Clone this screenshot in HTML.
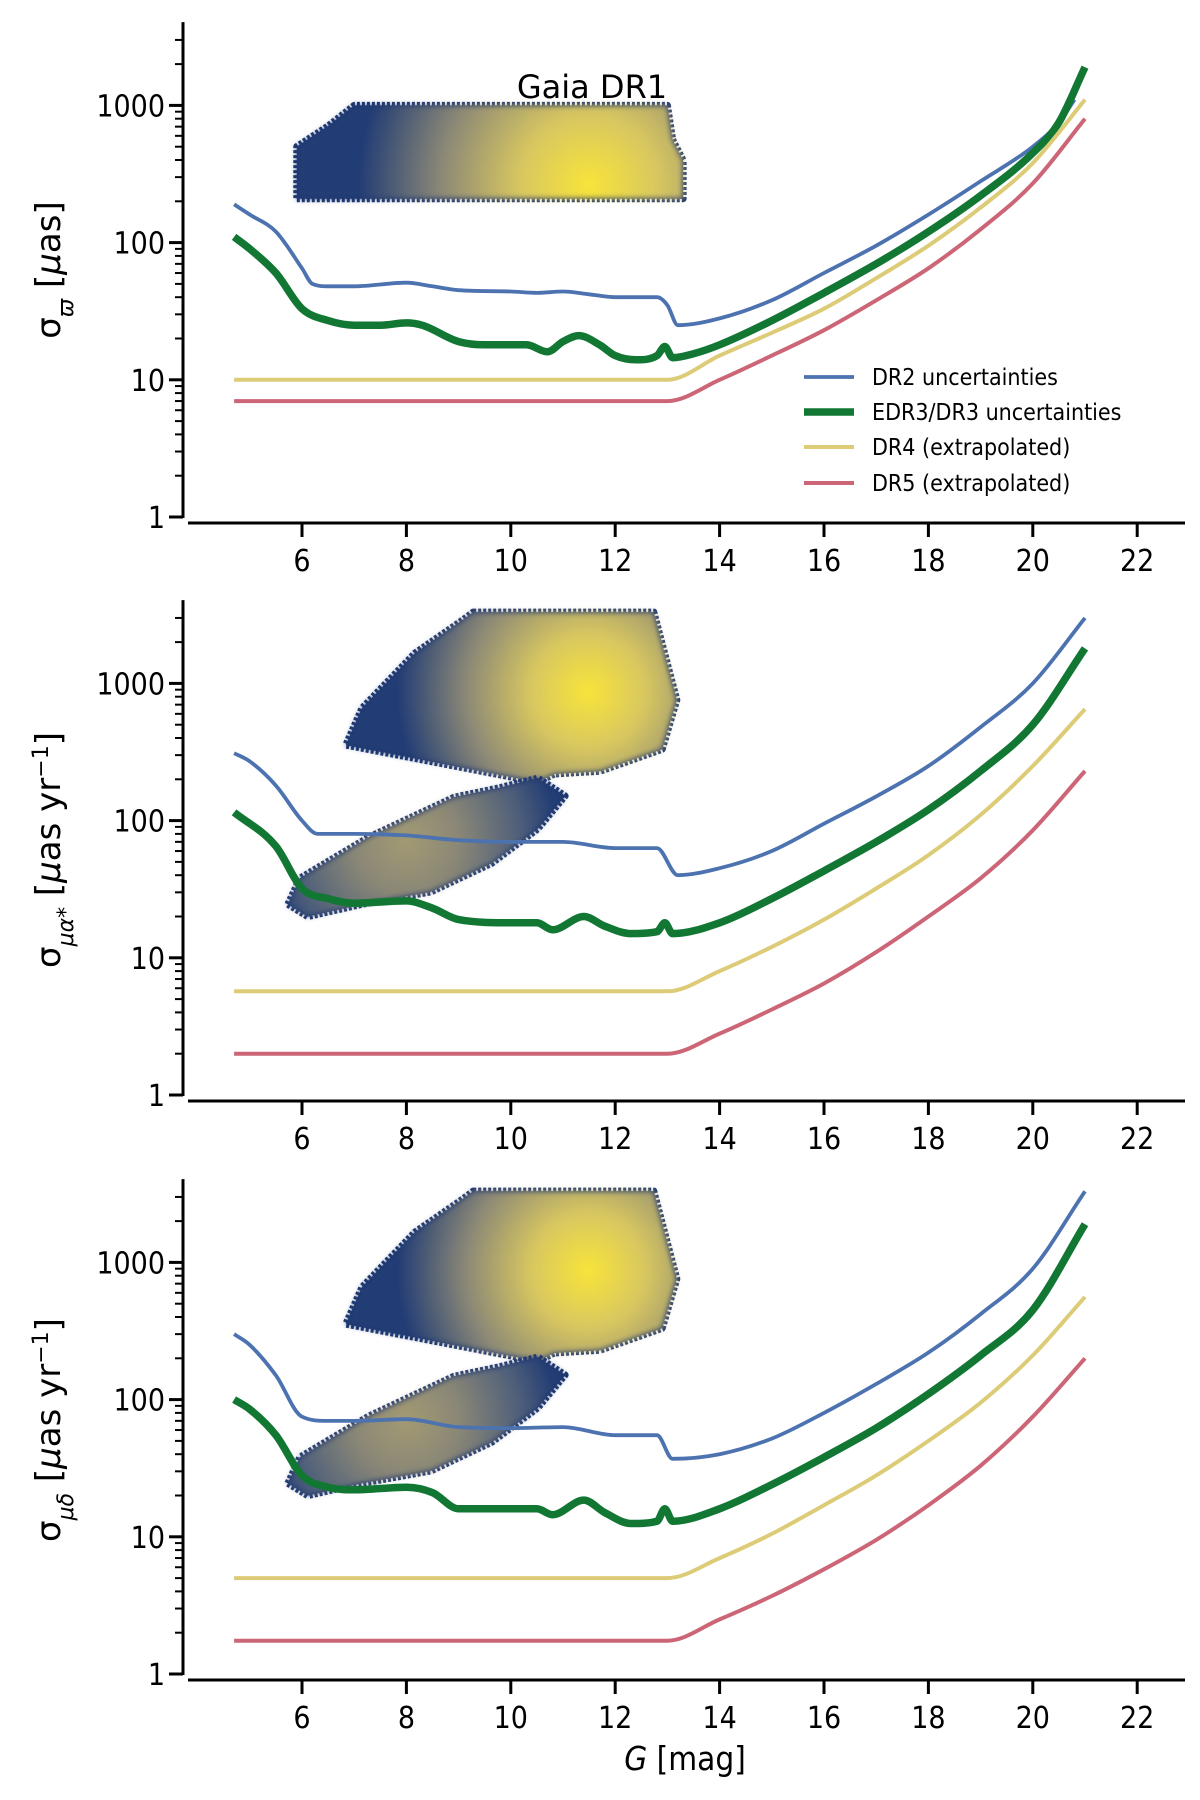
<!DOCTYPE html>
<html><head><meta charset="utf-8">
<style>
html,body{margin:0;padding:0;background:#fff;}
svg{display:block;}
text{font-family:"DejaVu Sans Condensed","DejaVu Sans","Liberation Sans",sans-serif;fill:#000;}
.lab{font-family:"DejaVu Sans","Liberation Sans",sans-serif;}
</style></head>
<body>
<svg id="fig" width="1200" height="1800" viewBox="0 0 1200 1800">
<defs>
<filter id="blur" x="-20%" y="-20%" width="140%" height="140%"><feGaussianBlur stdDeviation="3"/></filter>
</defs>
</svg>
<script>
// ---------- data ----------
const xTicks = [6,8,10,12,14,16,18,20,22];
const yTicks = [1,10,100,1000];
const yTickLabels = ['1','10','100','1000'];
const panelLabels = ['σ<tspan baseline-shift="sub" font-size="22" font-style="italic">ϖ</tspan> [<tspan font-style="italic">μ</tspan>as]',
  'σ<tspan baseline-shift="sub" font-size="22" font-style="italic">μα*</tspan> [<tspan font-style="italic">μ</tspan>as yr<tspan baseline-shift="super" font-size="22">−1</tspan>]',
  'σ<tspan baseline-shift="sub" font-size="22" font-style="italic">μδ</tspan> [<tspan font-style="italic">μ</tspan>as yr<tspan baseline-shift="super" font-size="22">−1</tspan>]'];
const seriesNames = ['DR2 uncertainties','EDR3/DR3 uncertainties','DR4 (extrapolated)','DR5 (extrapolated)'];

// panel 1: parallax
const p1DR2G = [4.7,5,5.5,6,6.2,6.5,7,8,8.5,9,10,10.5,11,11.5,12,12.8,13,13.2,14,15,16,17,18,19,20,20.5,20.8];
const p1DR2V = [190,160,120,65,50,48,48,51,48,45,44,43,44,42,40,40,35,25,28,38,60,95,160,280,500,750,1100];
const p1DR3G = [4.7,5,5.5,6,6.5,7,7.5,8,8.3,9,9.5,10,10.3,10.7,11,11.3,11.7,12,12.4,12.8,12.95,13.1,13.5,14,15,16,17,18,19,20,20.5,21];
const p1DR3V = [110,90,60,33,27,25,25,26,25,19,18,18,18,16,19,21,18,15,14,15,17.5,14.5,15.5,18,27,43,70,120,220,450,750,1900];
const p1DR4G = [4.7,13,14,15,16,17,18,19,20,21];
const p1DR4V = [10,10,15,22,33,55,95,180,380,1100];
const p1DR5G = [4.7,13,14,15,16,17,18,19,20,21];
const p1DR5V = [7,7,10,15,23,38,65,125,270,800];

// panel 2: pm ra
const p2DR2G = [4.7,5,5.5,6,6.3,7,8,9,10,11,12,12.8,13.2,14,15,16,17,18,19,20,21];
const p2DR2V = [310,270,180,100,80,80,78,72,70,70,63,63,40,45,60,95,150,250,480,1000,3000];
const p2DR3G = [4.7,5.5,6,6.5,7,8,8.5,9,10,10.5,10.8,11.4,11.8,12.3,12.8,12.95,13.1,14,15,16,17,18,19,20,21];
const p2DR3V = [115,65,32,27,25,26,23,19,18,18,16,20,17,15,15.5,18,15,18,27,43,70,120,230,500,1800];
const p2DR4G = [4.7,13,14,15,16,17,18,19,20,21];
const p2DR4V = [5.7,5.7,8,12,19,32,56,110,250,650];
const p2DR5G = [4.7,13,14,15,16,17,18,19,20,21];
const p2DR5V = [2,2,2.8,4.2,6.5,11,20,38,85,230];

// panel 3: pm dec
const p3DR2G = [4.7,5,5.5,6,6.5,7,8,9,10,11,12,12.8,13.1,14,15,16,17,18,19,20,21];
const p3DR2V = [300,250,150,75,70,70,72,63,62,63,55,55,37,40,52,80,130,220,420,900,3300];
const p3DR3G = [4.7,5,5.5,6,6.5,7,8,8.5,9,10,10.5,10.8,11.4,11.8,12.3,12.8,12.95,13.1,14,15,16,17,18,19,20,21];
const p3DR3V = [100,85,55,28,23,22,23,21,16,16,16,14.5,18.5,15,12.5,13,16,13,16,24,38,62,110,210,450,1900];
const p3DR4G = [4.7,13,14,15,16,17,18,19,20,21];
const p3DR4V = [5,5,7,10.5,17,28,50,95,210,560];
const p3DR5G = [4.7,13,14,15,16,17,18,19,20,21];
const p3DR5V = [1.75,1.75,2.5,3.7,5.8,9.5,17,33,75,200];

// DR1 density outlines (G, log10 sigma)
const dr1TopG = [5.9,13.3,13.3,13.1,13.0,7.0,6.5,5.9];
const dr1TopL = [2.32,2.32,2.6,2.75,3.0,3.0,2.85,2.7];
const dr1BigG = [9.28,12.74,13.18,12.9,11.71,10.83,10.52,6.84,7.15,8.16,9.07];
const dr1BigL = [3.52,3.52,2.88,2.52,2.36,2.34,2.28,2.55,2.82,3.22,3.46];
const dr1SmallG = [5.73,5.96,7.28,8.91,9.79,10.52,11.04,10.52,9.64,8.47,7.15,6.11];
const dr1SmallL = [1.39,1.58,1.88,2.17,2.24,2.31,2.18,1.94,1.69,1.48,1.39,1.30];

// ---------- layout ----------
const NS='http://www.w3.org/2000/svg';
const svg=document.getElementById('fig');
const panelBase=[517,1095,1674];
const decade=137.2;
const X0=302, XS=52.2;
function xPix(g){return X0+(g-6)*XS;}
function yPix(p,v){return panelBase[p]-Math.log10(v)*decade;}
function yPixL(p,l){return panelBase[p]-l*decade;}
function mk(tag,attrs,parent){const e=document.createElementNS(NS,tag);for(const k in attrs)e.setAttribute(k,attrs[k]);(parent||svg).appendChild(e);return e;}

function monoPath(xs,ys){
  const n=xs.length;const d=[],m=new Array(n);
  for(let i=0;i<n-1;i++)d.push((ys[i+1]-ys[i])/(xs[i+1]-xs[i]));
  m[0]=d[0];m[n-1]=d[n-2];
  for(let i=1;i<n-1;i++){m[i]=(d[i-1]*d[i]<=0)?0:(d[i-1]+d[i])/2;}
  for(let i=0;i<n-1;i++){
    if(d[i]===0){m[i]=0;m[i+1]=0;continue;}
    const a=m[i]/d[i],b=m[i+1]/d[i],s=a*a+b*b;
    if(s>9){const t=3/Math.sqrt(s);m[i]=t*a*d[i];m[i+1]=t*b*d[i];}
  }
  let p='M'+xs[0].toFixed(1)+','+ys[0].toFixed(1);
  for(let i=0;i<n-1;i++){
    const h=(xs[i+1]-xs[i])/3;
    p+=' C'+(xs[i]+h).toFixed(1)+','+(ys[i]+m[i]*h).toFixed(1)+' '+(xs[i+1]-h).toFixed(1)+','+(ys[i+1]-m[i+1]*h).toFixed(1)+' '+xs[i+1].toFixed(1)+','+ys[i+1].toFixed(1);
  }
  return p;
}

const colors=['#4c72b0','#117733','#ddcc77','#cc6677'];
const widths=[3.8,7.5,4,4];
const data=[
 [[p1DR2G,p1DR2V],[p1DR3G,p1DR3V],[p1DR4G,p1DR4V],[p1DR5G,p1DR5V]],
 [[p2DR2G,p2DR2V],[p2DR3G,p2DR3V],[p2DR4G,p2DR4V],[p2DR5G,p2DR5V]],
 [[p3DR2G,p3DR2V],[p3DR3G,p3DR3V],[p3DR4G,p3DR4V],[p3DR5G,p3DR5V]]];
const brightStops=[['0','#f8e43a'],['0.3','#d8c760'],['0.65','#8a8776'],['0.9','#3f5275'],['1','#233d74']];
const dimStops=[['0','#a39a72'],['0.35','#8a8776'],['0.75','#50607a'],['1','#243e74']];
const blobs=[
 [[dr1TopG,dr1TopL,11.5,2.42,230,brightStops]],
 [[dr1BigG,dr1BigL,11.48,2.94,190,brightStops],[dr1SmallG,dr1SmallL,8.0,1.85,150,dimStops]],
 [[dr1BigG,dr1BigL,11.48,2.94,190,brightStops],[dr1SmallG,dr1SmallL,8.0,1.85,150,dimStops]]];
const yLabelCenters=[270,850,1430];

for(let p=0;p<3;p++){
  const g=mk('g',{});
  
  
  blobs[p].forEach((b,bi)=>{
    const gid='grad'+p+'_'+bi;
    const rg=mk('radialGradient',{id:gid,gradientUnits:'userSpaceOnUse',cx:xPix(b[2]),cy:yPixL(p,b[3]),r:b[4]},svg.querySelector('defs'));
    b[5].forEach(s=>mk('stop',{offset:s[0],'stop-color':s[1]},rg));
    const pts=b[0].map((G,i)=>xPix(G).toFixed(1)+','+yPixL(p,b[1][i]).toFixed(1)).join(' ');
    const edge=mk('polygon',{points:pts,fill:'#1d3570',stroke:'#1d3570','stroke-width':7,'stroke-linejoin':'round','stroke-dasharray':'3 2'},g);
    
    
    const fill=mk('polygon',{points:pts,fill:'url(#'+gid+')',filter:'url(#blur)'},g);
    
    
  });
  data[p].forEach((s,si)=>{
    const xs=s[0].map(xPix), ys=s[1].map(v=>yPix(p,v));
    const path=mk('path',{d:monoPath(xs,ys),fill:'none',stroke:colors[si],'stroke-width':widths[si],'stroke-linejoin':'round'},g);
    
    
  });
  const top=panelBase[p]-3.6*decade;
  const ya=mk('line',{x1:183,y1:top-1,x2:183,y2:panelBase[p]+1,stroke:'#000','stroke-width':3},g);
  
  
  for(let e=0;e<4;e++){
    for(let m=1;m<10;m++){
      const v=m*Math.pow(10,e);
      if(Math.log10(v)>3.6)break;
      const y=yPix(p,v);
      const major=m===1;
      mk('line',{x1:major?169:175,y1:y,x2:183,y2:y,stroke:'#000','stroke-width':major?3:2},g);
    }
  }
  yTicks.forEach((v,i)=>{
    const t=mk('text',{x:165,y:yPix(p,v)+11,'text-anchor':'end','font-size':30},g);
    t.textContent=yTickLabels[i];
    
    
  });
  const xy=panelBase[p]+6;
  const xa=mk('line',{x1:188,y1:xy,x2:1185,y2:xy,stroke:'#000','stroke-width':3},g);
  
  
  xTicks.forEach(v=>{
    mk('line',{x1:xPix(v),y1:xy,x2:xPix(v),y2:xy+14,stroke:'#000','stroke-width':3},g);
    const t=mk('text',{x:xPix(v),y:xy+48,'text-anchor':'middle','font-size':30},g);
    t.textContent=v;
    
    
  });
  const yl=mk('text',{x:0,y:0,'text-anchor':'middle','font-size':34,'class':'lab',transform:'translate(60,'+yLabelCenters[p]+') rotate(-90)'},g);
  yl.innerHTML=panelLabels[p];
  
  
}

const gl=mk('text',{x:592,y:98,'text-anchor':'middle','font-size':32,'class':'lab'});
gl.textContent='Gaia DR1';



const legY=[377,412,447,483];
seriesNames.forEach((n,i)=>{
  const lg=mk('g',{});
  
  
  mk('line',{x1:804,y1:legY[i],x2:854,y2:legY[i],stroke:colors[i],'stroke-width':widths[i]},lg);
  const t=mk('text',{x:872,y:legY[i]+8,'font-size':23},lg);
  t.textContent=n;
});

const xl=mk('text',{x:685,y:1770,'text-anchor':'middle','font-size':33});
xl.innerHTML='<tspan font-style="italic">G</tspan> [mag]';


</script>
</body></html>
